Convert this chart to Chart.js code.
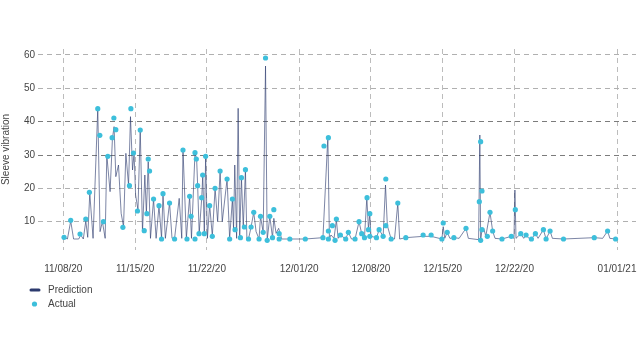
<!DOCTYPE html>
<html>
<head>
<meta charset="utf-8">
<script src="https://cdn.jsdelivr.net/npm/chart.js@4.4.1/dist/chart.umd.min.js"></script>
<style>
  body { margin: 0; background: #fff; }
  #wrap { width: 640px; height: 360px; }
</style>
</head>
<body>
<div id="wrap"><canvas id="chart" width="640" height="360"></canvas></div>
<script>
// days counted from 11/08/20
var tickDays = [0, 7, 14, 23, 30, 37, 44, 54];
var tickLabels = ['11/08/20', '11/15/20', '11/22/20', '12/01/20', '12/08/20', '12/15/20', '12/22/20', '01/01/21'];
var yTicks = [10, 20, 30, 40, 50, 60];

var actualDays = [0.07, 0.72, 1.63, 2.19, 2.54, 3.36, 3.56, 3.91, 4.34, 4.76, 4.93, 5.12, 5.81, 6.45, 6.59, 6.84,
  7.23, 7.5, 7.89, 8.15, 8.28, 8.41, 8.8, 9.33, 9.58, 9.72, 10.36, 10.85, 11.67, 12.06, 12.32, 12.46,
  12.84, 12.84, 12.97, 13.1, 13.23, 13.49, 13.59, 13.75, 13.88, 14.27, 14.53, 14.8, 15.29, 15.97,
  16.22, 16.49, 16.75, 17.27, 17.37, 17.66, 17.76, 18.06, 18.31, 18.57, 19.09, 19.23, 19.49, 19.72,
  19.88, 20.14, 20.4, 20.53, 21.05, 21.05, 22.09, 23.6,
  25.32, 25.42, 25.85, 25.85, 25.85, 26.24, 26.5, 26.63, 27.02, 27.54, 27.8, 28.45, 28.84, 29.1, 29.37,
  29.62, 29.76, 29.89, 29.89, 30.54, 30.8, 31.19, 31.45, 31.45, 31.97, 32.62, 33.4, 35.09, 35.87, 36.92,
  37.05, 37.44, 38.09, 39.27, 40.57, 40.7, 40.7, 40.83, 40.83, 41.35, 41.61, 41.87, 42.78, 43.69, 44.08,
  44.61, 45.13, 45.65, 46.04, 46.82, 47.08, 47.47, 48.78, 51.78, 53.08, 53.86];
var actualValues = [5.3, 10.4, 6.3, 10.8, 18.8, 43.9, 35.9, 10, 29.6, 35.2, 41.1, 37.6, 8.3, 20.8, 43.9, 30.6,
  13.2, 37.5, 7.3, 12.4, 28.8, 25.2, 16.8, 14.8, 4.8, 18.4, 15.6, 4.8, 31.5, 4.8, 17.6, 11.6,
  30.7, 4.8, 28.8, 20.8, 6.4, 17.2, 24, 6.4, 29.6, 14.8, 5.6, 20, 25.2, 22.8,
  4.8, 16.8, 7.6, 5.2, 23.2, 8.4, 25.6, 4.8, 8.4, 12.8, 4.8, 11.6, 6.8, 59.1,
  4.4, 11.6, 5.2, 13.6, 6.4, 4.8, 4.8, 4.8,
  5.2, 32.7, 35.2, 7.2, 4.8, 8.8, 4.4, 10.8, 6.0, 4.8, 6.8, 4.8, 10.0, 6.4, 5.2,
  17.2, 7.6, 12.4, 5.6, 5.2, 7.6, 5.6, 22.8, 8.8, 4.8, 15.6, 5.2, 6.0, 6.0, 4.8,
  9.6, 6.8, 5.2, 8.0, 16.0, 34.0, 4.4, 19.2, 7.6, 5.6, 12.8, 7.2, 4.8, 5.6, 13.6,
  6.4, 6.0, 4.8, 6.4, 7.6, 4.8, 7.2, 4.8, 5.2, 7.2, 4.8];

var predDays = [0.07, 0.4, 0.72, 1.0, 1.5, 1.7, 1.95, 2.19, 2.38, 2.58, 2.9, 3.36, 3.58, 3.81, 4.08, 4.24,
  4.56, 4.79, 4.95, 5.12, 5.38, 5.64, 5.87, 6.1, 6.36, 6.55, 6.75, 6.9, 7.05, 7.28, 7.5, 7.72,
  7.95, 8.1, 8.28, 8.5, 8.8, 9.05, 9.33, 9.58, 9.72, 9.95, 10.15, 10.36, 10.6, 10.85, 11.3, 11.55,
  11.67, 12.0, 12.32, 12.5, 12.84, 13.0, 13.1, 13.25, 13.5, 13.6, 13.75, 13.88, 14.05, 14.27, 14.53,
  14.8, 15.05, 15.29, 15.5, 15.97, 16.22, 16.49, 16.6, 16.72, 16.9, 17.05, 17.2, 17.37, 17.55, 17.76,
  17.9, 18.06, 18.31, 18.57, 18.8, 19.09, 19.23, 19.49, 19.72, 19.88, 20.14, 20.4, 20.53, 20.75, 21.0,
  21.3, 22.09, 23.6, 25.32, 25.8, 25.95, 26.1, 26.4, 26.63, 26.8, 27.02, 27.54, 27.8, 28.1, 28.45,
  28.84, 29.1, 29.37, 29.6, 29.76, 29.89, 30.0, 30.54, 30.8, 31.19, 31.42, 31.6, 31.97, 32.3, 32.62,
  32.8, 33.4, 35.09, 35.87, 36.92, 37.05, 37.2, 37.44, 37.7, 38.09, 38.6, 39.27, 39.5, 40.5, 40.62,
  40.7, 40.83, 41.0, 41.2, 41.61, 41.87, 42.1, 42.78, 43.69, 43.95, 44.04, 44.15, 44.61, 44.9, 45.13,
  45.4, 45.65, 46.04, 46.3, 46.82, 47.08, 47.47, 47.7, 48.78, 51.78, 52.6, 53.08, 53.3, 53.86];
var predValues = [5.3, 4.8, 10.2, 4.8, 4.8, 6.0, 4.8, 10.2, 5.3, 18.5, 5.0, 44, 7, 10, 5, 30,
  19, 35, 38.5, 23.5, 27, 12.5, 8.5, 30.5, 21, 41.5, 25.5, 30.5, 18, 13.5, 38, 7,
  24, 12.5, 28, 5, 16.7, 5, 14.7, 5, 18.4, 5, 10, 15.7, 5, 5, 17, 5,
  31.7, 5, 17.6, 5, 30.7, 28.8, 20.8, 6.5, 17.2, 24, 6.5, 29.6, 5, 15, 5.7,
  20, 10, 25.2, 10, 22.8, 5, 16.8, 7.7, 27, 5, 44, 5.2, 23.2, 8.4, 25.6,
  5, 4.8, 8.4, 12.8, 7, 4.8, 11.6, 6.8, 56.7, 4.4, 11.6, 5.2, 11, 6.5, 8,
  4.8, 4.8, 4.8, 5.2, 35.5, 5, 6, 5, 10.5, 5, 6, 4.8, 6.8, 4.8, 4.8,
  10, 6.4, 5.2, 17.2, 7.6, 12.4, 5.6, 5.2, 7.6, 5.6, 21, 8.8, 4.8, 4.8, 15.6,
  4.8, 5.2, 5.6, 5.6, 4.8, 8.5, 5, 6.8, 5, 5.2, 5, 8.0, 5, 4.6, 36,
  4.4, 7.6, 8, 5.6, 12.8, 7.2, 5, 4.8, 5.6, 5, 19.5, 5, 6.4, 5, 6.0,
  5, 4.8, 6.4, 5, 7.6, 4.8, 7.2, 5, 4.8, 5.2, 5, 7.2, 5, 4.8];

var predColor = '#2c3a6e';
var dotColor = '#3dbfdb';

var actualPts = actualDays.map(function (d, i) { return { x: d, y: actualValues[i] }; });
var predPts = predDays.map(function (d, i) { return { x: d, y: predValues[i] }; });

// legend drawn under the plot, stacked like the original
var stackedLegend = {
  id: 'stackedLegend',
  afterDraw: function (chart) {
    var c = chart.ctx;
    var ds = chart.data.datasets;
    c.save();
    c.strokeStyle = predColor;
    c.lineWidth = 3;
    c.lineCap = 'round';
    c.beginPath();
    c.moveTo(31, 290);
    c.lineTo(39, 290);
    c.stroke();
    c.fillStyle = dotColor;
    c.beginPath();
    c.arc(34.5, 304, 2.6, 0, Math.PI * 2);
    c.fill();
    c.fillStyle = '#444';
    c.font = '10px "Liberation Sans", Arial, sans-serif';
    c.textBaseline = 'middle';
    c.fillText(ds[1].label, 48, 290);
    c.fillText(ds[0].label, 48, 304);
    c.restore();
  }
};

var ctx = document.getElementById('chart').getContext('2d');
Chart.defaults.font.family = '"Liberation Sans", Arial, sans-serif';
Chart.defaults.color = '#444';

var myChart = new Chart(ctx, {
  type: 'line',
  data: {
    datasets: [
      {
        label: 'Actual',
        data: actualPts,
        showLine: false,
        pointRadius: 2.6,
        pointBackgroundColor: dotColor,
        pointBorderWidth: 0,
        order: 0
      },
      {
        label: 'Prediction',
        data: predPts,
        borderColor: 'rgba(44,58,110,0.62)',
        borderWidth: 1,
        pointRadius: 0,
        tension: 0,
        order: 1
      }
    ]
  },
  options: {
    responsive: false,
    animation: false,
    layout: { padding: { top: 49, left: 0, right: 0, bottom: 80 } },
    plugins: { legend: { display: false }, tooltip: { enabled: false } },
    scales: {
      x: {
        type: 'linear',
        min: -2.47,
        max: 55.85,
        afterBuildTicks: function (s) { s.ticks = tickDays.map(function (v) { return { value: v }; }); },
        afterFit: function (s) { s.height = 30; s.paddingLeft = 0; s.paddingRight = 0; },
        ticks: {
          autoSkip: false,
          maxRotation: 0,
          padding: 13,
          font: { size: 10 },
          color: '#444',
          callback: function (v) { return tickLabels[tickDays.indexOf(v)]; }
        },
        grid: { color: '#bcbcbc', lineWidth: 1, drawTicks: false },
        border: { display: false, dash: [5, 4] }
      },
      y: {
        min: 1.5,
        max: 61.8,
        afterBuildTicks: function (s) { s.ticks = yTicks.map(function (v) { return { value: v }; }); },
        afterFit: function (s) { s.width = 38; },
        ticks: { padding: 3, font: { size: 10 }, color: '#444' },
        title: { display: true, text: 'Sleeve vibration', font: { size: 10 }, color: '#444', padding: 0 },
        grid: {
          drawTicks: false,
          lineWidth: 1,
          color: function (c) {
            return (c.tick && (c.tick.value === 30 || c.tick.value === 40)) ? '#7c7c7c' : '#b0b0b0';
          }
        },
        border: { display: false, dash: [5, 4] }
      }
    }
  },
  plugins: [stackedLegend]
});
</script>
</body>
</html>
